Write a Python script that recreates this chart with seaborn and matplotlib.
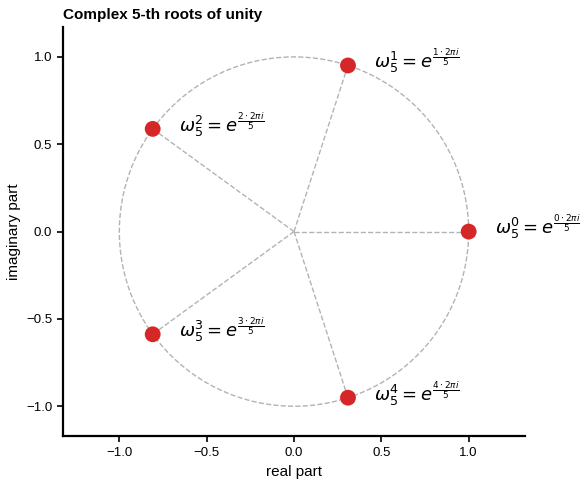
import numpy as np
import pandas as pd
import matplotlib.pyplot as plt
import seaborn as sns

# 5-th roots of unity
n = 5
k = [0, 1, 2, 3, 4]
real_part = [1.0, 0.309, -0.809, -0.809, 0.309]
imag_part = [0.0, 0.951, 0.588, -0.588, -0.951]
labels = [r'$\omega_5^{%d} = e^{\frac{%d\cdot 2\pi i}{5}}$' % (i, i) for i in k]
tick_vals = [-1.0, -0.5, 0.0, 0.5, 1.0]

# dashed unit circle outline (angles in degrees)
circle_deg = list(range(0, 361, 2))

df = pd.DataFrame({'k': k, 'real': real_part, 'imag': imag_part})

sns.set_style('ticks', {'axes.edgecolor': 'black', 'text.color': 'black',
                        'axes.labelcolor': 'black', 'xtick.color': 'black',
                        'ytick.color': 'black'})
plt.rcParams['font.family'] = ['Liberation Sans', 'DejaVu Sans']
plt.rcParams['mathtext.fontset'] = 'dejavusans'

fig = plt.figure(figsize=(5.8, 4.86), dpi=100)
ax = fig.add_axes([0.1086, 0.103, 0.7966, 0.841])

theta = np.deg2rad(circle_deg)
ax.plot(np.cos(theta), np.sin(theta), ls='--', color='#b3b3b3', lw=1, zorder=1)
for x, y in zip(real_part, imag_part):
    ax.plot([0, x], [0, y], ls='--', color='#b3b3b3', lw=1, zorder=1)

sns.scatterplot(data=df, x='real', y='imag', color='#d62728', s=130,
                edgecolor='none', zorder=3, ax=ax)

for x, y, lab in zip(real_part, imag_part, labels):
    ax.text(x + 0.15, y + 0.025, lab, fontsize=13, va='center', ha='left')

ax.set_xlim(-1.32, 1.32)
ax.set_ylim(-1.17, 1.17)
ax.set_aspect('equal')
ax.set_xticks(tick_vals)
ax.set_yticks(tick_vals)
sns.despine(ax=ax)
for s in ax.spines.values():
    s.set_linewidth(1.6)
ax.tick_params(axis='both', which='major', bottom=True, left=True,
               direction='out', labelsize=9.5, length=4.5, width=1.2,
               color='black')
ax.set_xlabel('real part', fontsize=11)
ax.set_ylabel('imaginary part', fontsize=11)
ax.set_title('Complex 5-th roots of unity', loc='left', fontweight='bold', fontsize=11)

fig.savefig('out.png', dpi=100)
